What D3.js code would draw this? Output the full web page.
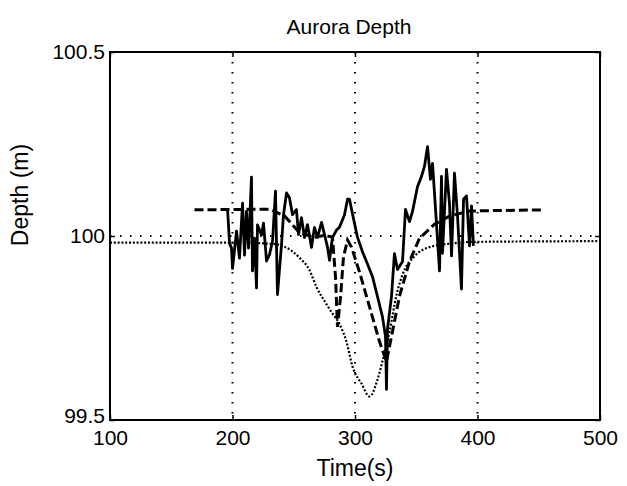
<!DOCTYPE html>
<html lang="en">
<head>
  <meta charset="utf-8">
  <title>Aurora Depth</title>
  <script src="https://d3js.org/d3.v7.min.js"></script>
  <style>
    body {
      margin: 0;
      background: #fff;
      font-family: 'Liberation Sans', Arial, sans-serif;
    }
    .tick line { stroke: #000; stroke-width: 1.5px; }
    .tick text { fill: #000; font-size: 21px; }
    .grid { stroke: #000; stroke-width: 2px; stroke-dasharray: 1.5 8.5; fill: none; }
  </style>
</head>
<body>
<div id="chart"></div>
<script>
  // tick values
  var xTicks = [100, 200, 300, 400, 500];
  var yTicks = [99.5, 100, 100.5];
  var xGrid = [200, 300, 400];
  var yGrid = [100];

  // measured depth (solid)
  var solidTime = [196, 197.6, 199.2, 200, 203.3, 205.7, 208.2, 209.8, 211.4, 213.1,
    215.5, 216.3, 218, 219.6, 220.4, 223.7, 225.3, 227.8, 230.2, 232.7,
    235.1, 236.7, 240, 241.6, 244.1, 246.5, 249, 252.2, 253.9, 256.3,
    258.8, 261.2, 264.5, 266.9, 269.4, 272.7, 275.1, 277.6, 279.2, 281.6,
    284.9, 287.3, 291.4, 293.9, 295.5, 298, 302, 306.1, 310.2, 314.3,
    318.4, 322.4, 324.9, 325.7, 326.5, 329.8, 332.2, 334.7, 338.8, 341.2,
    344.5, 346.9, 351, 354.3, 356.7, 359.2, 361.6, 363.3, 366.5, 369,
    370.6, 371.4, 374.7, 377.1, 378.8, 381.2, 383.7, 386.9, 388.6, 391,
    393.5, 395.1, 396.7];
  var solidDepth = [100.070, 99.980, 99.967, 99.912, 100.013, 99.940, 100.089, 99.948, 100.067, 99.967,
    100.160, 99.905, 99.994, 99.859, 100.030, 100.003, 100.035, 99.932, 99.949, 99.987,
    100.122, 99.841, 99.976, 100.057, 100.117, 100.104, 100.058, 100.072, 100.004, 100.050,
    99.996, 100.031, 99.969, 100.023, 99.996, 100.037, 100.004, 99.969, 99.934, 99.996,
    100.016, 100.024, 100.057, 100.100, 100.100, 100.059, 99.997, 99.957, 99.924, 99.889,
    99.835, 99.781, 99.727, 99.583, 99.746, 99.836, 99.952, 99.909, 99.931, 100.072,
    100.039, 100.066, 100.134, 100.162, 100.189, 100.243, 100.154, 100.197, 100.035, 99.905,
    100.162, 99.953, 100.181, 100.089, 99.946, 100.171, 100.054, 99.856, 100.100, 100.109,
    99.973, 100.082, 99.973];

  // dashed series
  var dashTime = [169, 230.2, 242.4, 254.7, 266.9, 275.1, 281.6, 284.1, 285.7, 288.2,
    290.6, 293.9, 297.1, 303.7, 311.8, 320, 325.7, 329.8, 336.3, 344.5,
    352.7, 364.9, 377.1, 393.5, 453.1];
  var dashDepth = [100.071, 100.073, 100.055, 100.009, 99.996, 100.002, 99.997, 99.888, 99.753, 99.834,
    99.943, 99.989, 99.970, 99.902, 99.808, 99.713, 99.659, 99.727, 99.836, 99.931,
    99.994, 100.032, 100.054, 100.068, 100.071];

  // dotted series
  var dotTime = [100, 200, 235, 242.4, 254.7, 262.9, 268.6, 276.7, 280.8, 287.3,
    293.1, 298, 305.3, 311.8, 318.4, 322.4, 328.2, 333.9, 338.8, 348.6,
    363.3, 377.1, 395.9, 500];
  var dotDepth = [99.982, 99.982, 99.978, 99.971, 99.941, 99.907, 99.861, 99.815, 99.793, 99.761,
    99.712, 99.645, 99.599, 99.564, 99.61, 99.66, 99.74, 99.84, 99.895, 99.945,
    99.972, 99.979, 99.984, 99.986];

  var margin = {top: 52, right: 27, bottom: 66, left: 110},
      width = 627 - margin.left - margin.right,
      height = 486 - margin.top - margin.bottom;

  var svg = d3.select("#chart")
    .append("svg")
    .attr("width", 627)
    .attr("height", 486);

  var g = svg.append("g")
    .attr("transform", "translate(" + margin.left + "," + margin.top + ")");

  var x = d3.scaleLinear().domain([100, 500]).range([0, width]);
  var y = d3.scaleLinear().domain([99.5, 100.5]).range([height, 0]);

  // grid lines
  g.selectAll(".vgrid")
    .data(xGrid)
    .enter().append("line")
    .attr("class", "grid")
    .attr("x1", function (d) { return x(d); })
    .attr("x2", function (d) { return x(d); })
    .attr("y1", 0)
    .attr("y2", height);

  g.selectAll(".hgrid")
    .data(yGrid)
    .enter().append("line")
    .attr("class", "grid")
    .attr("x1", 0)
    .attr("x2", width)
    .attr("y1", function (d) { return y(d); })
    .attr("y2", function (d) { return y(d); });

  function zip(ts, ds) {
    return ts.map(function (t, i) { return {t: t, d: ds[i]}; });
  }

  var line = d3.line()
    .x(function (d) { return x(d.t); })
    .y(function (d) { return y(d.d); });

  // dotted
  g.append("path")
    .datum(zip(dotTime, dotDepth))
    .attr("fill", "none")
    .attr("stroke", "#000")
    .attr("stroke-width", 2.2)
    .attr("stroke-dasharray", "2 1.8")
    .attr("d", line.curve(d3.curveMonotoneX));

  // dashed
  g.append("path")
    .datum(zip(dashTime, dashDepth))
    .attr("fill", "none")
    .attr("stroke", "#000")
    .attr("stroke-width", 3)
    .attr("stroke-dasharray", "9 4")
    .attr("d", line.curve(d3.curveLinear));

  // solid
  g.append("path")
    .datum(zip(solidTime, solidDepth))
    .attr("fill", "none")
    .attr("stroke", "#000")
    .attr("stroke-width", 2.8)
    .attr("stroke-linejoin", "round")
    .attr("d", line.curve(d3.curveLinear));

  // axes with inward ticks
  var xAxis = g.append("g")
    .attr("transform", "translate(0," + height + ")")
    .call(d3.axisBottom(x).tickValues(xTicks).tickFormat(d3.format("d"))
      .tickSizeInner(-5).tickSizeOuter(0).tickPadding(10));
  xAxis.select(".domain").remove();

  var yAxis = g.append("g")
    .call(d3.axisLeft(y).tickValues(yTicks).tickFormat(function (d) { return String(d); })
      .tickSizeInner(-5).tickSizeOuter(0).tickPadding(5));
  yAxis.select(".domain").remove();
  // lift the bottom label a little so it clears the x tick labels
  yAxis.selectAll(".tick text")
    .attr("dy", function (d) { return d === 99.5 ? "0.1em" : "0.32em"; });

  g.append("g")
    .call(d3.axisTop(x).tickValues(xTicks).tickFormat("").tickSizeInner(-5).tickSizeOuter(0))
    .select(".domain").remove();
  g.append("g")
    .attr("transform", "translate(" + width + ",0)")
    .call(d3.axisRight(y).tickValues(yTicks).tickFormat("").tickSizeInner(-5).tickSizeOuter(0))
    .select(".domain").remove();

  // box
  g.append("rect")
    .attr("width", width)
    .attr("height", height)
    .attr("fill", "none")
    .attr("stroke", "#000")
    .attr("stroke-width", 2);

  // title and labels
  svg.append("text")
    .attr("x", 349)
    .attr("y", 34)
    .attr("text-anchor", "middle")
    .style("font-size", "21px")
    .text("Aurora Depth");

  svg.append("text")
    .attr("x", 355)
    .attr("y", 476)
    .attr("text-anchor", "middle")
    .style("font-size", "23px")
    .text("Time(s)");

  svg.append("text")
    .attr("transform", "translate(28,195) rotate(-90)")
    .attr("text-anchor", "middle")
    .style("font-size", "23px")
    .text("Depth (m)");
</script>
</body>
</html>
